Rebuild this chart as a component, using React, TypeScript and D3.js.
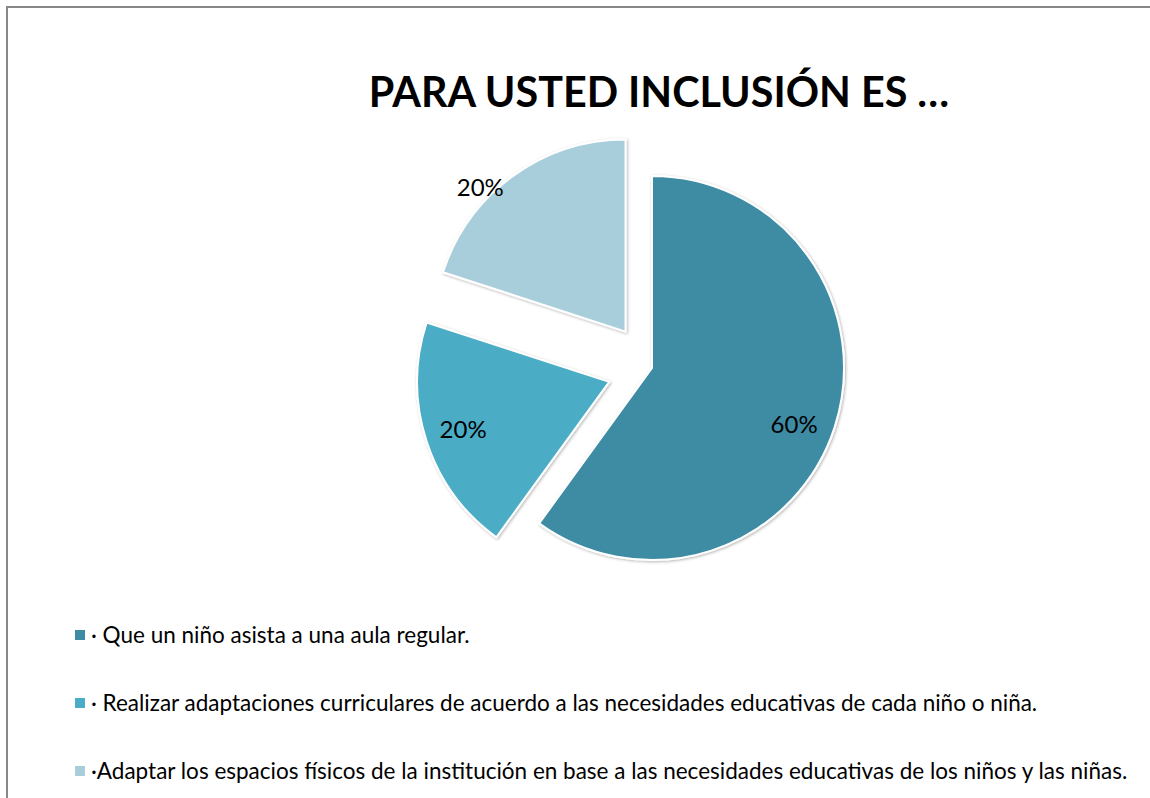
import React, { useEffect, useRef } from "react";
import * as d3 from "d3";

// datos del gráfico
const categorias = [
  "· Que un niño asista a una aula regular.",
  "· Realizar adaptaciones curriculares de acuerdo a las necesidades educativas de cada niño o niña.",
  "·Adaptar los espacios físicos de la institución en base a las necesidades educativas de los niños y las niñas.",
];
const porcentajes = [60, 20, 20];
const explosion = [0, 45, 45];
const colores = ["#3D8CA4", "#4BACC6", "#A8CEDC"];
const titulo = "PARA USTED INCLUSIÓN ES …";

const W = 1150;
const H = 798;

const App = () => {
  const ref = useRef<SVGSVGElement | null>(null);

  useEffect(() => {
    const svg = d3.select(ref.current);
    svg.selectAll("*").remove();

    const font = "Lato, 'Open Sans', sans-serif";

    // sombra suave de los sectores
    const defs = svg.append("defs");
    const f = defs
      .append("filter")
      .attr("id", "sombra")
      .attr("x", "-20%")
      .attr("y", "-20%")
      .attr("width", "140%")
      .attr("height", "140%");
    f.append("feDropShadow")
      .attr("dx", 1)
      .attr("dy", 1)
      .attr("stdDeviation", 1.5)
      .attr("flood-color", "#000")
      .attr("flood-opacity", 0.3);

    // marco
    svg
      .append("rect")
      .attr("x", 7)
      .attr("y", 7)
      .attr("width", W + 20)
      .attr("height", H + 20)
      .attr("fill", "#fff")
      .attr("stroke", "#888")
      .attr("stroke-width", 2);

    // título
    svg
      .append("text")
      .attr("x", 659)
      .attr("y", 107)
      .attr("text-anchor", "middle")
      .attr("font-family", font)
      .attr("font-weight", "bold")
      .attr("font-size", 41.3)
      .attr("fill", "#000")
      .text(titulo);

    const cx = 652;
    const cy = 368;
    const radius = 192;

    const pie = d3
      .pie<number>()
      .sort(null)
      .value((d) => d);
    const arc = d3.arc<d3.PieArcDatum<number>>().innerRadius(0).outerRadius(radius);
    const labelArc = d3
      .arc<d3.PieArcDatum<number>>()
      .innerRadius(radius * 0.8)
      .outerRadius(radius * 0.8);

    const arcs = pie(porcentajes);

    const g = svg.append("g").attr("transform", `translate(${cx},${cy})`);

    const slices = g
      .selectAll(".slice")
      .data(arcs)
      .enter()
      .append("g")
      .attr("class", "slice")
      .attr("transform", (d, i) => {
        const mid = (d.startAngle + d.endAngle) / 2;
        const e = explosion[i];
        return `translate(${Math.sin(mid) * e},${-Math.cos(mid) * e})`;
      });

    slices
      .append("path")
      .attr("d", arc)
      .attr("fill", (d, i) => colores[i])
      .attr("stroke", "#fff")
      .attr("stroke-width", 2)
      .attr("filter", "url(#sombra)");

    slices
      .append("text")
      .attr("transform", (d, i) => {
        let [x, y] = labelArc.centroid(d);
        // ajustes finos de las etiquetas
        if (i === 0) {
          x -= 4;
          y += 9;
        }
        if (i === 2) {
          x -= 55;
          y -= 20;
        }
        return `translate(${x},${y})`;
      })
      .attr("dy", "0.35em")
      .attr("text-anchor", "middle")
      .attr("font-family", font)
      .attr("font-size", 24)
      .attr("fill", "#000")
      .text((d) => `${d.data}%`);

    // leyenda
    const legendY = d3
      .scalePoint<string>()
      .domain(categorias)
      .range([635, 771]);

    const leg = svg
      .selectAll(".leg")
      .data(categorias)
      .enter()
      .append("g")
      .attr("class", "leg")
      .attr("transform", (d) => `translate(75,${legendY(d)})`);

    leg
      .append("rect")
      .attr("x", 0)
      .attr("y", -5)
      .attr("width", 10)
      .attr("height", 10)
      .attr("fill", (d, i) => colores[i]);

    leg
      .append("text")
      .attr("x", 16)
      .attr("dy", "0.35em")
      .attr("font-family", font)
      .attr("font-size", 22.5)
      .attr("fill", "#000")
      .text((d) => d);
  }, []);

  return (
    <svg
      ref={ref}
      width={W}
      height={H}
      style={{ position: "absolute", left: 0, top: 0, display: "block" }}
    ></svg>
  );
};

export default App;
